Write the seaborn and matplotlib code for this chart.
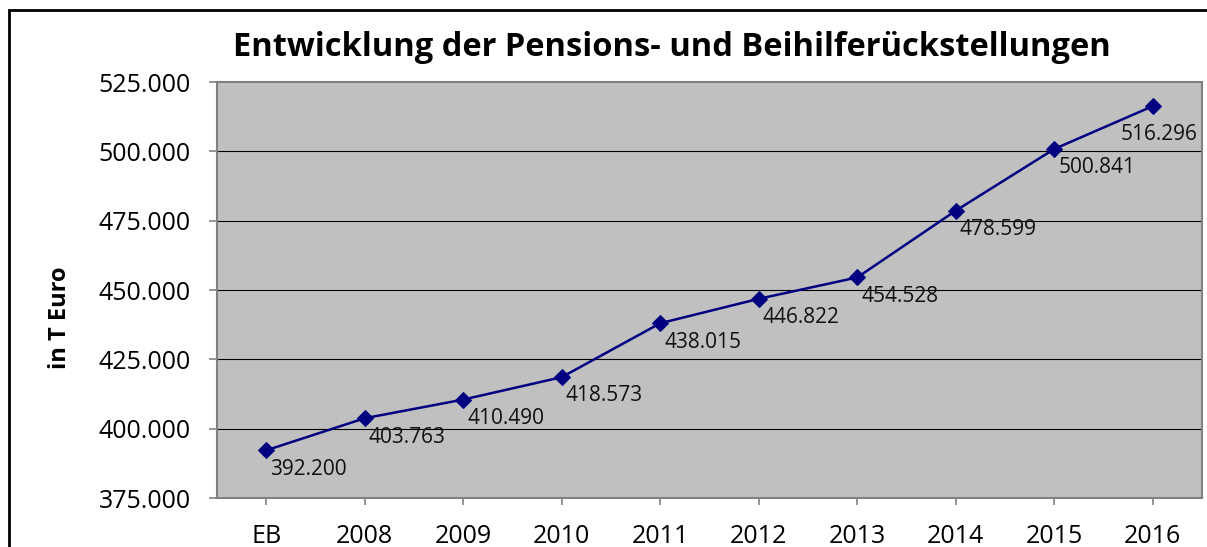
import matplotlib
matplotlib.use("Agg")
import matplotlib.pyplot as plt
import matplotlib.patches as patches
from matplotlib.ticker import FuncFormatter
import seaborn as sns
import pandas as pd

categories = ["EB", "2008", "2009", "2010", "2011", "2012", "2013", "2014", "2015", "2016"]
values = [392200, 403763, 410490, 418573, 438015, 446822, 454528, 478599, 500841, 516296]
value_labels = ["392.200", "403.763", "410.490", "418.573", "438.015",
                "446.822", "454.528", "478.599", "500.841", "516.296"]

df = pd.DataFrame({"Jahr": categories, "Wert": values})

sns.set_style("white")
plt.rcParams["font.family"] = ["Open Sans", "DejaVu Sans"]

fig = plt.figure(figsize=(12.07, 5.47), dpi=100)
ax = fig.add_axes([217 / 1207, 1 - 498 / 547, 985 / 1207, 416 / 547])
ax.set_facecolor("#C0C0C0")

sns.lineplot(data=df, x="Jahr", y="Wert", ax=ax, sort=False, color="#000080",
             linewidth=1.8, marker="D", markersize=8, markeredgecolor="#000080")

for i, (v, lab) in enumerate(zip(values, value_labels)):
    if i == len(values) - 1:
        ax.annotate(lab, (i, v), xytext=(32, -13), textcoords="offset points",
                    ha="right", va="top", fontsize=15, color="#111111")
    else:
        ax.annotate(lab, (i, v), xytext=(3, -6), textcoords="offset points",
                    ha="left", va="top", fontsize=15, color="#111111")

ax.set_xlim(-0.5, len(categories) - 0.5)
ax.set_ylim(375000, 525000)
ax.set_yticks(range(375000, 525001, 25000))
ax.yaxis.set_major_formatter(FuncFormatter(lambda v, p: f"{int(v):,}".replace(",", ".")))

for y in range(400000, 525000, 25000):
    ax.axhline(y, color="black", linewidth=0.8, zorder=0.5)

for s in ax.spines.values():
    s.set_color("#808080")
    s.set_linewidth(1.5)

ax.tick_params(axis="y", length=6, width=1.2, color="#808080", pad=13,
               labelsize=18, labelcolor="#000000", left=True)
ax.tick_params(axis="x", length=5, width=1.2, color="#808080", pad=14,
               labelsize=18, labelcolor="#000000", bottom=True)
ax.set_xlabel("")
ax.set_ylabel("")

fig.text(672 / 1207, 1 - 47 / 547, "Entwicklung der Pensions- und Beihilferückstellungen",
         ha="center", va="center", fontsize=23.5, fontweight="bold", color="black")
fig.text(60 / 1207, 1 - 318 / 547, "in T Euro", rotation=90, ha="center", va="center",
         fontsize=17, fontweight="bold", color="black")

border = patches.Rectangle((9 / 1207, -0.1), 1.2, 1 - 10 / 547 + 0.1,
                           transform=fig.transFigure, fill=False,
                           edgecolor="black", linewidth=2, clip_on=False)
fig.patches.append(border)

fig.savefig("out.png", dpi=100)
